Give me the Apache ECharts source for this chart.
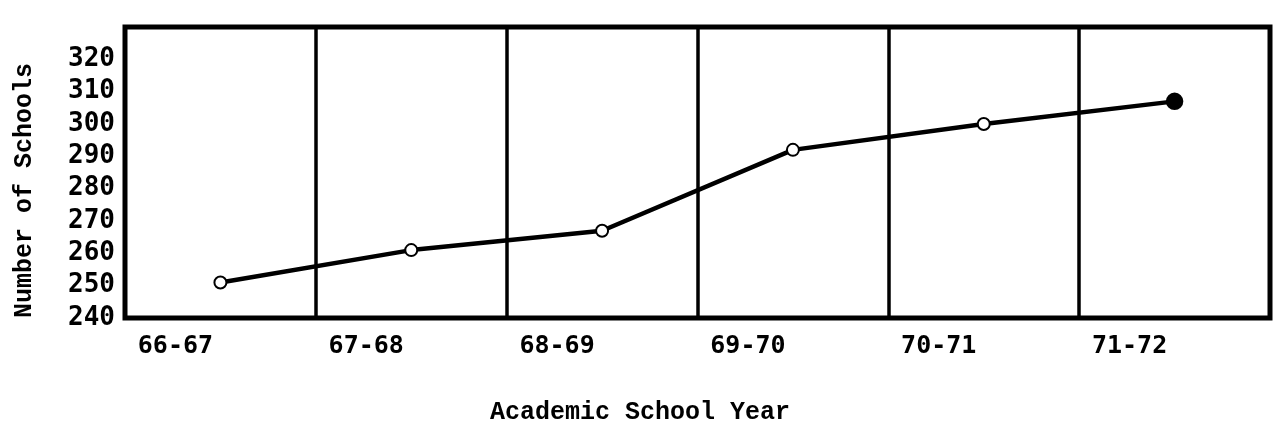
<!DOCTYPE html>
<html>
<head>
<meta charset="utf-8">
<title>Number of Schools</title>
<script src="https://cdn.jsdelivr.net/npm/echarts@6/dist/echarts.min.js"></script>
<style>
html, body { margin: 0; padding: 0; background: #fff; }
#chart { width: 1276px; height: 433px; }
</style>
</head>
<body>
<div id="chart"></div>
<script>
// academic years on the x axis
var years = ['66-67', '67-68', '68-69', '69-70', '70-71', '71-72'];
// number of schools
var schools = [251, 261, 267, 292, 300, 307];
// y axis range / step
var yMin = 240;
var yMax = 330;
var yStep = 10;

var myChart = echarts.init(document.getElementById('chart'));

var monoTxt = '"Liberation Mono", "DejaVu Sans Mono", monospace';
var tickTxt = '"DejaVu Sans Mono", "Liberation Mono", monospace';

var seriesData = schools.map(function (v, i) {
    // last point is drawn filled in the original
    if (i === schools.length - 1) {
        return { value: v, symbol: 'circle', symbolSize: 14 };
    }
    return v;
});

var options = {
    animation: false,
    grid: {
        left: 125,
        right: 6,
        top: 27,
        bottom: 115,
        show: true,
        borderColor: '#000',
        borderWidth: 5,
        backgroundColor: 'transparent'
    },
    xAxis: {
        type: 'category',
        data: years,
        boundaryGap: true,
        axisLine: { show: false },
        axisTick: { show: false },
        splitLine: {
            show: true,
            lineStyle: { color: '#000', width: 3.5 }
        },
        axisLabel: {
            color: '#000',
            fontFamily: tickTxt,
            fontWeight: 'bold',
            fontSize: 25,
            margin: 16,
            padding: [0, 90, 0, 0]
        },
        name: 'Academic School Year',
        nameLocation: 'middle',
        nameGap: 82,
        nameTextStyle: {
            color: '#000',
            fontFamily: monoTxt,
            fontWeight: 'bold',
            fontSize: 25,
            padding: [0, 115, 0, 0]
        }
    },
    yAxis: {
        type: 'value',
        min: yMin,
        max: yMax,
        interval: yStep,
        axisLine: { show: false },
        axisTick: { show: false },
        splitLine: { show: false },
        axisLabel: {
            color: '#000',
            fontFamily: tickTxt,
            fontWeight: 'bold',
            fontSize: 26,
            margin: 10,
            formatter: function (v) {
                return v >= yMax ? '' : v;
            }
        },
        name: 'Number of Schools',
        nameLocation: 'middle',
        nameGap: 88,
        nameRotate: 90,
        nameTextStyle: {
            color: '#000',
            fontFamily: monoTxt,
            fontWeight: 'bold',
            fontSize: 25,
            padding: [0, 36, 0, 0]
        }
    },
    series: [
        {
            type: 'line',
            data: seriesData,
            symbol: 'emptyCircle',
            symbolSize: 12,
            lineStyle: { color: '#000', width: 4.5 },
            itemStyle: { color: '#000', borderColor: '#000', borderWidth: 3.5 }
        }
    ]
};

myChart.setOption(options);
</script>
</body>
</html>
